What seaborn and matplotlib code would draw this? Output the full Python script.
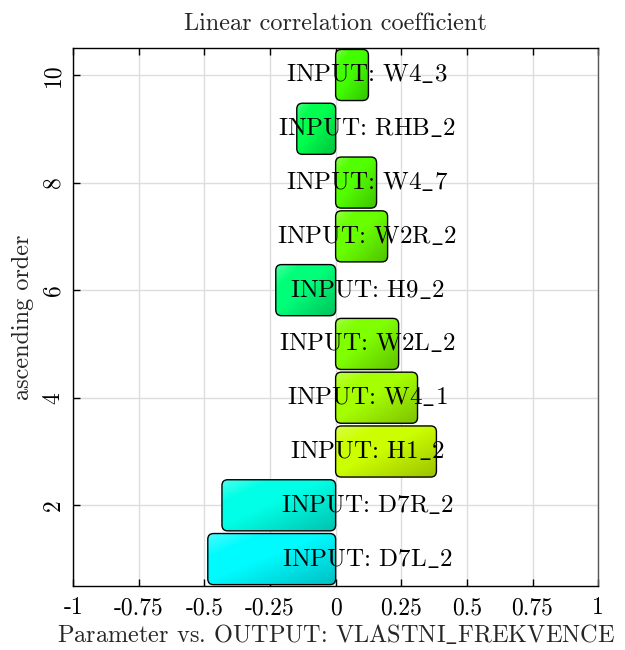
import colorsys
import numpy as np
import pandas as pd
import seaborn as sns
import matplotlib.pyplot as plt
from matplotlib.patches import FancyBboxPatch

# correlation of each input with the output, ascending order 1..10
params = ["D7L_2", "D7R_2", "H1_2", "W4_1", "W2L_2", "H9_2", "W2R_2", "W4_7", "RHB_2", "W4_3"]
corr = [-0.487, -0.433, 0.384, 0.312, 0.240, -0.228, 0.198, 0.156, -0.148, 0.125]
order = list(range(1, 11))

df = pd.DataFrame({"param": params, "corr": corr, "order": order})

sns.set_theme(style="white")
plt.rcParams["font.family"] = ["cmr10", "DejaVu Serif"]
plt.rcParams["mathtext.fontset"] = "cm"
plt.rcParams["axes.unicode_minus"] = False
plt.rcParams["axes.formatter.use_mathtext"] = False


def tex(s):
    # cmr10 has no real underscore, draw it through mathtext
    return s.replace("_", r"$\_$")


def bar_color(v):
    hue = (120 - 125 * v) / 360.0
    return np.array(colorsys.hsv_to_rgb(hue, 1.0, 1.0))


fig = plt.figure(figsize=(6.25, 6.5), dpi=100)
ax = fig.add_axes([0.117, 0.0985, 0.84, 0.8275])

sns.barplot(data=df, x="corr", y="order", orient="h", native_scale=True,
            width=0.95, color="white", ax=ax)

ax.set_xlim(-1, 1)
ax.set_ylim(0.5, 10.5)
fig.canvas.draw()

# aspect between x and y data units so the corners stay round
bb = ax.get_window_extent()
asp = (10.0 / bb.height) / (2.0 / bb.width)

gx, gy = np.meshgrid(np.linspace(0, 1, 80), np.linspace(0, 1, 80))
d = gx + gy
shade = 1.0 - 0.24 * np.clip((d - 0.9) / 1.1, 0, 1)
tint = np.clip((0.45 - d) / 0.45, 0, 1)[:, :, None] * 0.3

for p, v in zip(list(ax.patches), df["corr"]):
    x0, y0 = p.get_x(), p.get_y()
    w, h = p.get_width(), p.get_height()
    p.set_visible(False)
    left, right = min(x0, x0 + w), max(x0, x0 + w)
    base = bar_color(v)
    img = np.clip(base[None, None, :] * shade[:, :, None], 0, 1)
    img = img * (1 - tint) + tint
    box = FancyBboxPatch((left, y0), right - left, h,
                         boxstyle="round,pad=0,rounding_size=0.022",
                         mutation_aspect=asp, facecolor="none",
                         edgecolor="black", linewidth=1.0, zorder=3)
    ax.add_patch(box)
    im = ax.imshow(img, extent=(left, right, y0, y0 + h), aspect="auto",
                   origin="upper", zorder=2, interpolation="bilinear")
    im.set_clip_path(box)

for y, name in zip(df["order"], df["param"]):
    ax.text(0.12, y, tex("INPUT: " + name), ha="center", va="center",
            fontsize=18, color="black", zorder=4)

ax.set_xlim(-1, 1)
ax.set_ylim(0.5, 10.5)
ax.set_xticks([-1, -0.75, -0.5, -0.25, 0, 0.25, 0.5, 0.75, 1])
ax.set_xticklabels(["-1", "-0.75", "-0.5", "-0.25", "0", "0.25", "0.5", "0.75", "1"])
ax.set_yticks([2, 4, 6, 8, 10])
ax.set_yticklabels(["2", "4", "6", "8", "10"], rotation=90, va="center")
ax.grid(True, color="#dddddd", linewidth=1.0, zorder=0)
ax.set_axisbelow(True)
ax.tick_params(axis="both", direction="in", length=5, width=1, labelsize=17,
               colors="black", top=True, bottom=True, left=True, right=False)
ax.tick_params(axis="x", pad=8)
ax.tick_params(axis="y", pad=6)
for s in ax.spines.values():
    s.set_color("black")
    s.set_linewidth(1.0)
ax.spines["right"].set_color("#555555")

ax.set_xlabel(tex("Parameter vs. OUTPUT: VLASTNI_FREKVENCE"), fontsize=17.5, labelpad=3)
ax.set_ylabel("ascending order", fontsize=17.5, labelpad=6)
ax.set_title("Linear correlation coefficient", fontsize=17.5, pad=13)

fig.savefig("out.png", dpi=100)
